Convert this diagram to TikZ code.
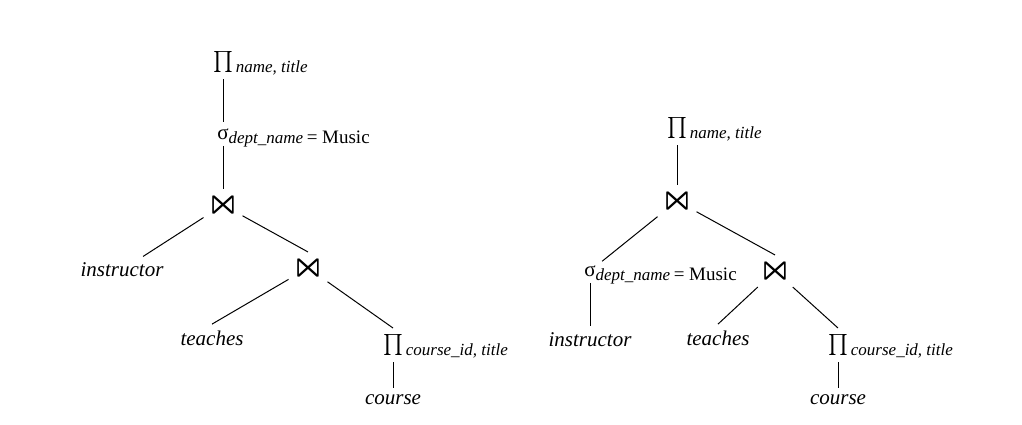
\documentclass[tikz,border=0pt]{standalone}
\usepackage{amssymb}
\usepackage{fontspec}
\setmainfont{Liberation Serif}

\newcommand{\subfont}{\fontsize{8.5}{10}\selectfont\itshape}
\newcommand{\proj}[1]{$\prod$\rlap{\smash{\kern1.5pt\raisebox{-2.6pt}{\subfont #1}}}}
\newcommand{\sel}[2]{σ\rlap{\smash{\raisebox{-2pt}{{\subfont #1}\,{\fontsize{9.5}{11}\selectfont= #2}}}}}
\newcommand{\bowtiesym}{\resizebox{16pt}{11pt}{$\Join$}}

\tikzset{
    oper/.style = {inner sep = 3pt},
    joinop/.style = {inner sep = 1.5pt},
    rel/.style = {font = {\fontsize{10.5}{12}\selectfont\itshape}, inner sep = 3pt}
}

\begin{document}
\begin{tikzpicture}[x = 0.5pt, y = -0.5pt, line width = 0.5pt, font = {\fontsize{10.5}{12}\selectfont}]
    \useasboundingbox (0, 0) rectangle (1022, 424);
    % left tree
    \node [oper] (pa) at (223, 62) {\proj{name, title}};
    \node [oper] (sa) at (223, 134) {\sel{dept\_name}{Music}};
    \node [joinop] (ja) at (223, 205) {\bowtiesym};
    \node [rel] (ia) at (122, 270) {instructor};
    \node [joinop] (jb) at (308, 268) {\bowtiesym};
    \node [rel] (ta) at (212, 338) {teaches};
    \node [oper] (pb) at (393, 345) {\proj{course\_id, title}};
    \node [rel] (ca) at (393, 400) {course};
    \draw (pa) -- (sa);
    \draw (sa) -- (ja);
    \draw (ja) -- (ia);
    \draw (ja) -- (jb.north);
    \draw (jb) -- (ta.north);
    \draw (jb) -- (pb.north);
    \draw (pb) -- (ca);
    % right tree
    \node [oper] (pc) at (677, 128) {\proj{name, title}};
    \node [joinop] (jc) at (677, 201) {\bowtiesym};
    \node [oper] (sb) at (590, 271) {\sel{dept\_name}{Music}};
    \node [rel] (ib) at (590, 340) {instructor};
    \node [joinop] (jd) at (775, 271) {\bowtiesym};
    \node [rel] (tb) at (718, 338) {teaches};
    \node [oper] (pd) at (838, 345) {\proj{course\_id, title}};
    \node [rel] (cb) at (838, 400) {course};
    \draw (pc) -- (jc);
    \draw (jc) -- (sb);
    \draw (sb) -- (ib);
    \draw (jc) -- (jd.north);
    \draw (jd) -- (tb.north);
    \draw (jd) -- (pd.north);
    \draw (pd) -- (cb);
\end{tikzpicture}
\end{document}
